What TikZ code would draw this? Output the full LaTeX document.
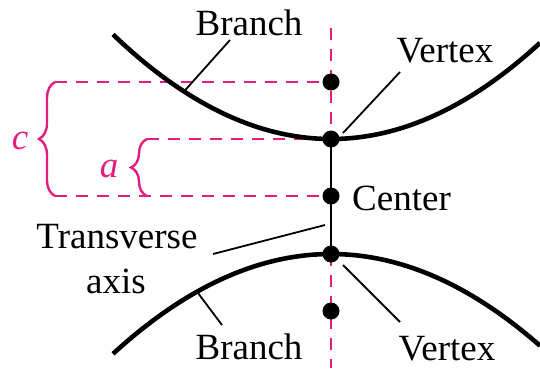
\documentclass[tikz,border=0pt]{standalone}
\usepackage{fontspec}
\setmainfont{Liberation Serif}
\usetikzlibrary{decorations.pathreplacing}
\definecolor{mag}{RGB}{228,30,128}
\begin{document}
\begin{tikzpicture}[x=1pt,y=-1pt,
  curve/.style={line width=4.6pt},
  leader/.style={line width=1.8pt},
  guide/.style={mag,line width=2.8pt,dash pattern=on 12pt off 9pt},
  bracestyle/.style={mag,line width=2.4pt,decorate,decoration={brace,amplitude=16pt}},
  dot/.style={circle,fill=black,inner sep=0pt,minimum size=17pt},
  lbl/.style={font=\fontsize{37}{40}\selectfont,inner sep=0pt,anchor=base},
  mlbl/.style={text=mag,font=\fontsize{37}{40}\selectfont\itshape,inner sep=0pt,anchor=base}]
\useasboundingbox (0,0) rectangle (540,368);
% key points
\coordinate (F1) at (331,82);
\coordinate (V1) at (331,139);
\coordinate (C)  at (331,196);
\coordinate (V2) at (331,254);
\coordinate (F2) at (331,311);
\coordinate (Top) at (331,28);
\coordinate (Bot) at (331,368);
% magenta guides
\draw[guide] (Top) -- (V1);
\draw[guide] (V2) -- (Bot);
\coordinate (cA) at (55,82);
\coordinate (cB) at (55,196);
\coordinate (aA) at (147,139);
\coordinate (aB) at (147,196);
\draw[guide] (cA) -- (F1);
\draw[guide] (aA) -- (V1);
\draw[guide] (cB) -- (C);
\draw[bracestyle] (cB) -- (cA);
\draw[bracestyle] (aB) -- (aA);
\node[mlbl] (clbl) at (20,149) {c};
\node[mlbl] (albl) at (109,177) {a};
% transverse axis
\draw[line width=2.5pt] (V1) -- (V2);
% branches
\draw[curve] plot[domain=113:540,samples=80,smooth] (\x,{139-0.22*((\x-331)/10)^2});
\draw[curve] plot[domain=113:540,samples=80,smooth] (\x,{254+0.21*((\x-331)/10)^2});
% dots
\node[dot] (f1) at (F1) {};
\node[dot] (v1) at (V1) {};
\node[dot] (c)  at (C)  {};
\node[dot] (v2) at (V2) {};
\node[dot] (f2) at (F2) {};
% labels
\node[lbl] (branchT) at (249,35) {Branch};
\node[lbl] (vertexT) at (445,62) {Vertex};
\node[lbl,anchor=base west] (center) at (352,210) {Center};
\node[lbl] (trans) at (117,248) {Transverse};
\node[lbl] (axis) at (116,293) {axis};
\node[lbl] (branchB) at (249,359) {Branch};
\node[lbl] (vertexB) at (447,360) {Vertex};
% leader lines
\coordinate (l1a) at (230,40);
\coordinate (l1b) at (184,{139-0.22*((184-331)/10)^2});
\draw[leader] (l1a) -- (l1b);
\coordinate (l2a) at (400,72);
\coordinate (l2b) at (343,133);
\draw[leader] (l2a) -- (l2b);
\coordinate (l3a) at (213,254);
\coordinate (l3b) at (325,225);
\draw[leader] (l3a) -- (l3b);
\coordinate (l4a) at (222,325);
\coordinate (l4b) at (197,{254+0.21*((197-331)/10)^2});
\draw[leader] (l4a) -- (l4b);
\coordinate (l5a) at (343,265);
\coordinate (l5b) at (400,322);
\draw[leader] (l5a) -- (l5b);
\end{tikzpicture}
\end{document}
